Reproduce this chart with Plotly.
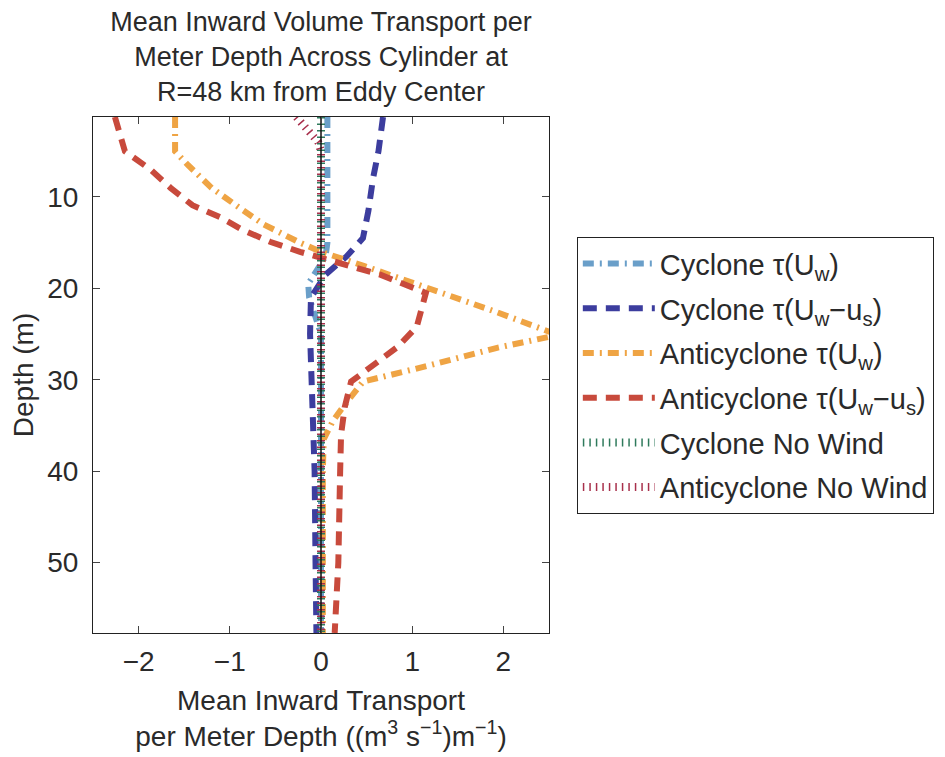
import plotly.graph_objects as go

# ---- data ----
cyc_uw_depth = [1.25, 5, 10, 15, 16.5, 18, 19.5, 21, 23, 25, 30, 40, 50, 57.7]
cyc_uw_val = [0.07, 0.07, 0.07, 0.07, 0.05, -0.05, -0.14, -0.13, -0.06, 0.0, 0.0, 0.0, 0.0, 0.0]

cyc_us_depth = [1.25, 5, 8, 11.5, 14.5, 16.5, 18.5, 21, 25, 30, 40, 50, 57.7]
cyc_us_val = [0.68, 0.63, 0.57, 0.52, 0.46, 0.28, 0.05, -0.11, -0.12, -0.1, -0.07, -0.06, -0.05]

anti_uw_depth = [1.25, 5, 6.5, 9, 11, 13, 15, 16, 17.5, 20, 22.5, 25.1, 26.5, 28.5, 30.2, 33, 34.5, 36.5, 40, 50, 57.7]
anti_uw_val = [-1.6, -1.6, -1.46, -1.2, -0.92, -0.63, -0.23, 0.0, 0.46, 1.2, 1.9, 2.6, 1.93, 1.16, 0.46, 0.24, 0.13, 0.03, 0.02, 0.02, 0.02]

anti_us_depth = [1.25, 5, 7, 9, 10.9, 12.2, 13.6, 14.9, 16, 16.7, 18.5, 20.5, 24.2, 26.4, 28.1, 30.2, 33, 36, 40, 50, 57.7]
anti_us_val = [-2.26, -2.15, -1.87, -1.65, -1.41, -1.11, -0.86, -0.56, -0.23, 0.02, 0.65, 1.15, 1.05, 0.84, 0.61, 0.33, 0.26, 0.22, 0.21, 0.19, 0.15]

cyc_nw_depth = [1.25, 57.7]
cyc_nw_val = [0.0, 0.0]

anti_nw_depth = [1.25, 2.5, 4, 5, 57.7]
anti_nw_val = [-0.27, -0.15, -0.03, 0.0, 0.0]

zero_depth = [1.25, 57.7]
zero_val = [0.0, 0.0]

x_ticks = [-2, -1, 0, 1, 2]
y_ticks = [10, 20, 30, 40, 50]

FONT = "Liberation Sans, Arial, sans-serif"
TXT = "#2a2a2a"
FS = 28

fig = go.Figure()

fig.add_trace(go.Scatter(x=cyc_uw_val, y=cyc_uw_depth, mode="lines", legendgroup="g1",
                         name="Cyclone τ(U<sub>w</sub>)",
                         line=dict(color="#6a9fc9", width=6, dash="11px,6px,2px,6px")))
fig.add_trace(go.Scatter(x=cyc_us_val, y=cyc_us_depth, mode="lines", legendgroup="g2",
                         name="Cyclone τ(U<sub>w</sub>−u<sub>s</sub>)",
                         line=dict(color="#3c3d9e", width=6, dash="14px,9px")))
fig.add_trace(go.Scatter(x=anti_uw_val, y=anti_uw_depth, mode="lines", legendgroup="g3",
                         name="Anticyclone τ(U<sub>w</sub>)",
                         line=dict(color="#efa444", width=6, dash="11px,6px,2px,6px")))
fig.add_trace(go.Scatter(x=anti_us_val, y=anti_us_depth, mode="lines", legendgroup="g4",
                         name="Anticyclone τ(U<sub>w</sub>−u<sub>s</sub>)",
                         line=dict(color="#c84a3c", width=6, dash="14px,9px")))
fig.add_trace(go.Scatter(x=cyc_nw_val, y=cyc_nw_depth, mode="lines", legendgroup="g5",
                         name="Cyclone No Wind",
                         line=dict(color="#2f7a5c", width=8, dash="1.5px,5px")))
fig.add_trace(go.Scatter(x=anti_nw_val, y=anti_nw_depth, mode="lines", legendgroup="g6",
                         name="Anticyclone No Wind",
                         line=dict(color="#a8304c", width=8, dash="1.5px,5px")))
fig.add_trace(go.Scatter(x=zero_val, y=zero_depth, mode="lines", showlegend=False,
                         line=dict(color="#111111", width=1.5)))

fig.update_layout(
    width=945, height=757,
    margin=dict(l=93, r=396, t=117, b=124, autoexpand=False),
    paper_bgcolor="white", plot_bgcolor="white",
    font=dict(family=FONT, size=FS, color=TXT),
    title=dict(text="Mean Inward Volume Transport per<br>Meter Depth Across Cylinder at<br>R=48 km from Eddy Center",
               x=0.5, xref="paper", xanchor="center",
               y=1, yref="paper", yanchor="bottom", pad=dict(b=86),
               font=dict(family=FONT, size=27, color=TXT)),
    legend=dict(x=1.061, y=0.767, xanchor="left", yanchor="top",
                bordercolor="#222222", borderwidth=1, bgcolor="white",
                font=dict(family=FONT, size=29, color=TXT),
                itemwidth=72, traceorder="grouped", tracegroupgap=4),
    showlegend=True,
)

fig.update_xaxes(range=[-2.5, 2.5], tickvals=x_ticks, ticks="inside", ticklen=7,
                 showline=True, linecolor="#222222", linewidth=1, mirror="ticks",
                 showgrid=False, zeroline=False, ticklabelstandoff=3, automargin=False,
                 tickfont=dict(family=FONT, size=FS, color=TXT),
                 title=dict(text="Mean Inward Transport<br>per Meter Depth ((m<sup>3</sup> s<sup>−1</sup>)m<sup>−1</sup>)",
                            font=dict(family=FONT, size=FS, color=TXT), standoff=14))
fig.update_yaxes(range=[57.7, 1.25], tickvals=y_ticks, ticks="inside", ticklen=7,
                 showline=True, linecolor="#222222", linewidth=1, mirror="ticks",
                 showgrid=False, zeroline=False, ticklabelstandoff=8, automargin=False,
                 tickfont=dict(family=FONT, size=FS, color=TXT),
                 title=dict(text="Depth (m)", font=dict(family=FONT, size=FS, color=TXT), standoff=5))

fig.write_html("out.html")
